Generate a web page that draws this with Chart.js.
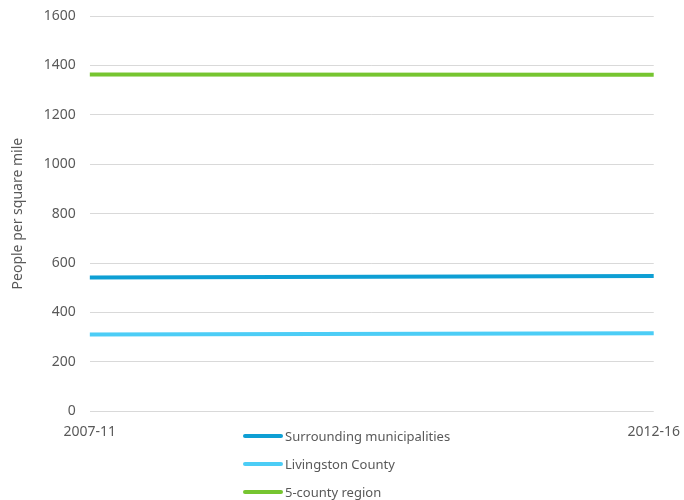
<!DOCTYPE html>
<html>
<head>
<meta charset="utf-8">
<script src="https://cdn.jsdelivr.net/npm/chart.js@4.4.1/dist/chart.umd.min.js"></script>
<style>
  html, body { margin: 0; padding: 0; background: #fff; }
  #wrap { position: relative; width: 684px; height: 500px; }
  #legend {
    position: absolute; left: 243px; top: 422px;
    font-family: "Noto Sans", sans-serif; font-size: 13px; color: #595959;
  }
  #legend .item { display: flex; align-items: center; height: 28px; }
  #legend .swatch { width: 40px; height: 4px; border-radius: 2px; margin-right: 2px; }
</style>
</head>
<body>
<div id="wrap">
  <canvas id="chart" width="684" height="500"></canvas>
  <div id="legend"></div>
</div>
<script>
// values
const periods = ['2007-11', '2012-16'];
const surrounding = [541, 548];
const livingston = [311, 316];
const region = [1364, 1362];
const yTicks = [0, 200, 400, 600, 800, 1000, 1200, 1400, 1600];

const textColor = '#595959';
const font = { family: '"Noto Sans", sans-serif', size: 14 };

const makeSet = (label, data, color) => ({
  label: label,
  data: data,
  borderColor: color,
  backgroundColor: color,
  borderWidth: 4,
  pointRadius: 0,
  tension: 0,
  fill: false
});

const chart = new Chart(document.getElementById('chart'), {
  type: 'line',
  data: {
    labels: periods,
    datasets: [
      makeSet('Surrounding municipalities', surrounding, '#0E9FD4'),
      makeSet('Livingston County', livingston, '#4CCDF6'),
      makeSet('5-county region', region, '#76C530')
    ]
  },
  options: {
    responsive: false,
    animation: false,
    layout: { padding: { top: 0, right: 2, bottom: 56, left: 10 } },
    plugins: {
      legend: { display: false },
      tooltip: { enabled: false }
    },
    scales: {
      x: {
        offset: false,
        grid: { display: false },
        border: { display: false },
        ticks: { color: textColor, font: font, maxRotation: 0, padding: 4 }
      },
      y: {
        min: 0,
        max: 1600,
        afterBuildTicks: axis => { axis.ticks = yTicks.map(v => ({ value: v })); },
        grid: { color: '#D9D9D9', lineWidth: 1, drawTicks: false },
        border: { display: false },
        // small lineHeight so the top label does not push the plot down
        ticks: { color: textColor, font: { ...font, lineHeight: 0.3 }, padding: 14, callback: v => String(v) },
        title: {
          display: true,
          text: 'People per square mile',
          color: textColor,
          font: { family: '"Noto Sans", sans-serif', size: 14 },
          padding: { top: 0, bottom: 3 }
        }
      }
    }
  }
});

// vertical legend under the plot
const legendEl = document.getElementById('legend');
chart.data.datasets.forEach(ds => {
  const item = document.createElement('div');
  item.className = 'item';
  const sw = document.createElement('span');
  sw.className = 'swatch';
  sw.style.background = ds.borderColor;
  const txt = document.createElement('span');
  txt.textContent = ds.label;
  item.appendChild(sw);
  item.appendChild(txt);
  legendEl.appendChild(item);
});
</script>
</body>
</html>
